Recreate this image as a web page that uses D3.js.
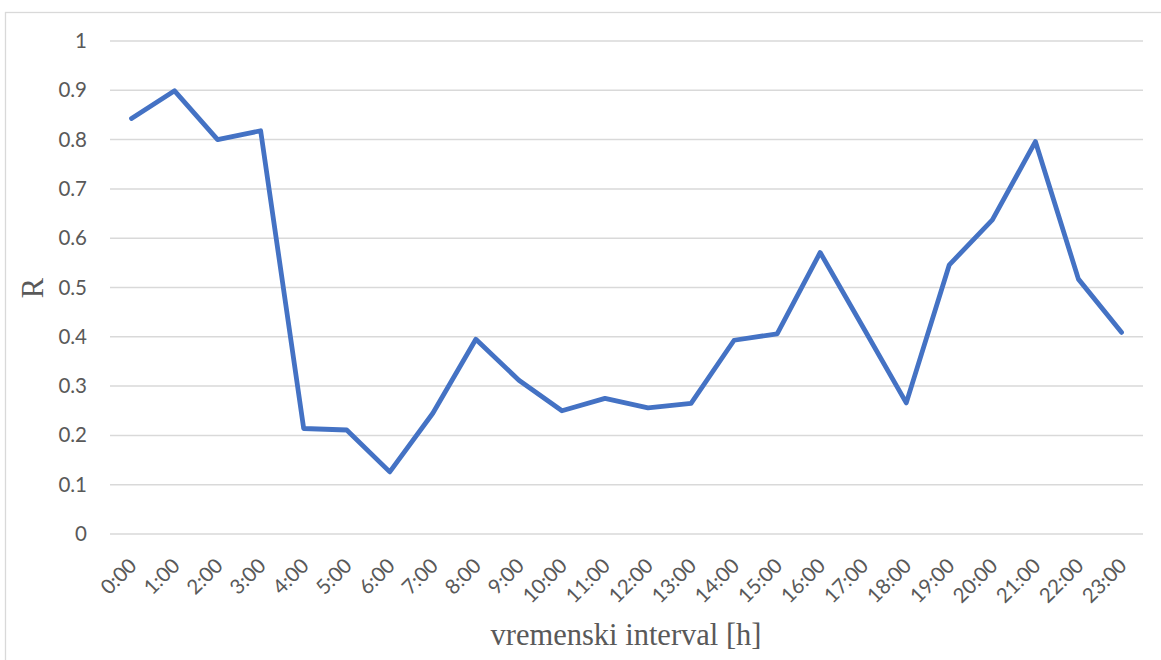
<!DOCTYPE html>
<html lang="en">
  <head>
    <meta charset="utf-8">
    <script src="https://cdn.jsdelivr.net/npm/d3@7"></script>
    <style>
      body{ margin:0; background:#fff; }
      .tick text{ font-family:Lato, "Open Sans", sans-serif; font-size:20.5px; fill:#595959; }
      .title{ font-family:"Liberation Serif", "Times New Roman", serif; font-size:30.5px; fill:#595959; }
    </style>
  </head>
  <body>
    <svg></svg>
  <script>
    // hours on the x axis
    var hours = ["0:00","1:00","2:00","3:00","4:00","5:00","6:00","7:00","8:00","9:00","10:00","11:00",
                 "12:00","13:00","14:00","15:00","16:00","17:00","18:00","19:00","20:00","21:00","22:00","23:00"];
    // R value per hour
    var rValues = [0.843,0.899,0.800,0.818,0.214,0.211,0.126,0.245,0.395,0.312,0.250,0.275,
                   0.256,0.265,0.393,0.406,0.571,0.419,0.266,0.546,0.637,0.796,0.517,0.409];
    var yTicks = [0,0.1,0.2,0.3,0.4,0.5,0.6,0.7,0.8,0.9,1];

    var svgwidth = 1161;
    var svgheight = 660;

    var svg = d3.select('svg')
                .attr('width',svgwidth)
                .attr('height',svgheight);

    // chart frame
    svg.append('rect')
       .attr('x',5.5).attr('y',12.5)
       .attr('width',1170).attr('height',700)
       .attr('fill','none')
       .attr('stroke','#d9d9d9')
       .attr('stroke-width',1.3);

    var plotLeft = 110, plotRight = 1143, plotTop = 41, plotBottom = 534;

    var xScale = d3.scalePoint()
                   .domain(hours)
                   .range([plotLeft,plotRight])
                   .padding(0.5);

    var yScale = d3.scaleLinear()
                   .domain([0,1])
                   .range([plotBottom,plotTop]);

    // gridlines
    svg.append('g').selectAll('line')
       .data(yTicks)
       .enter()
       .append('line')
       .attr('x1',plotLeft).attr('x2',plotRight)
       .attr('y1',function(d){ return yScale(d); })
       .attr('y2',function(d){ return yScale(d); })
       .attr('stroke','#d9d9d9')
       .attr('stroke-width',1.5);

    // y axis labels
    var yAxis = d3.axisLeft(yScale)
                  .tickValues(yTicks)
                  .tickSize(0)
                  .tickPadding(0)
                  .tickFormat(function(d){ return d3.format('')(+d.toFixed(1)); });
    var yg = svg.append('g')
       .attr('transform','translate(87,0)')
       .call(yAxis);
    yg.select('.domain').remove();

    // x axis labels
    var xAxis = d3.axisBottom(xScale).tickSize(0);
    var xg = svg.append('g')
       .attr('transform','translate(0,'+plotBottom+')')
       .call(xAxis);
    xg.select('.domain').remove();
    xg.selectAll('text')
      .attr('text-anchor','end')
      .attr('y',0)
      .attr('dy',0)
      .attr('transform','translate(6,33) rotate(-45)');

    // line
    var line = d3.line()
                 .x(function(d,i){ return xScale(hours[i]); })
                 .y(function(d){ return yScale(d); });

    svg.append('path')
       .datum(rValues)
       .attr('d',line)
       .attr('fill','none')
       .attr('stroke','#4472c4')
       .attr('stroke-width',4.8)
       .attr('stroke-linejoin','round')
       .attr('stroke-linecap','round');

    // axis titles
    svg.append('text')
       .classed('title',true)
       .attr('x',626).attr('y',645)
       .attr('text-anchor','middle')
       .text('vremenski interval [h]');

    svg.append('text')
       .classed('title',true)
       .attr('transform','translate(43,288) rotate(-90)')
       .attr('text-anchor','middle')
       .text('R');
  </script>
  </body>
</html>
